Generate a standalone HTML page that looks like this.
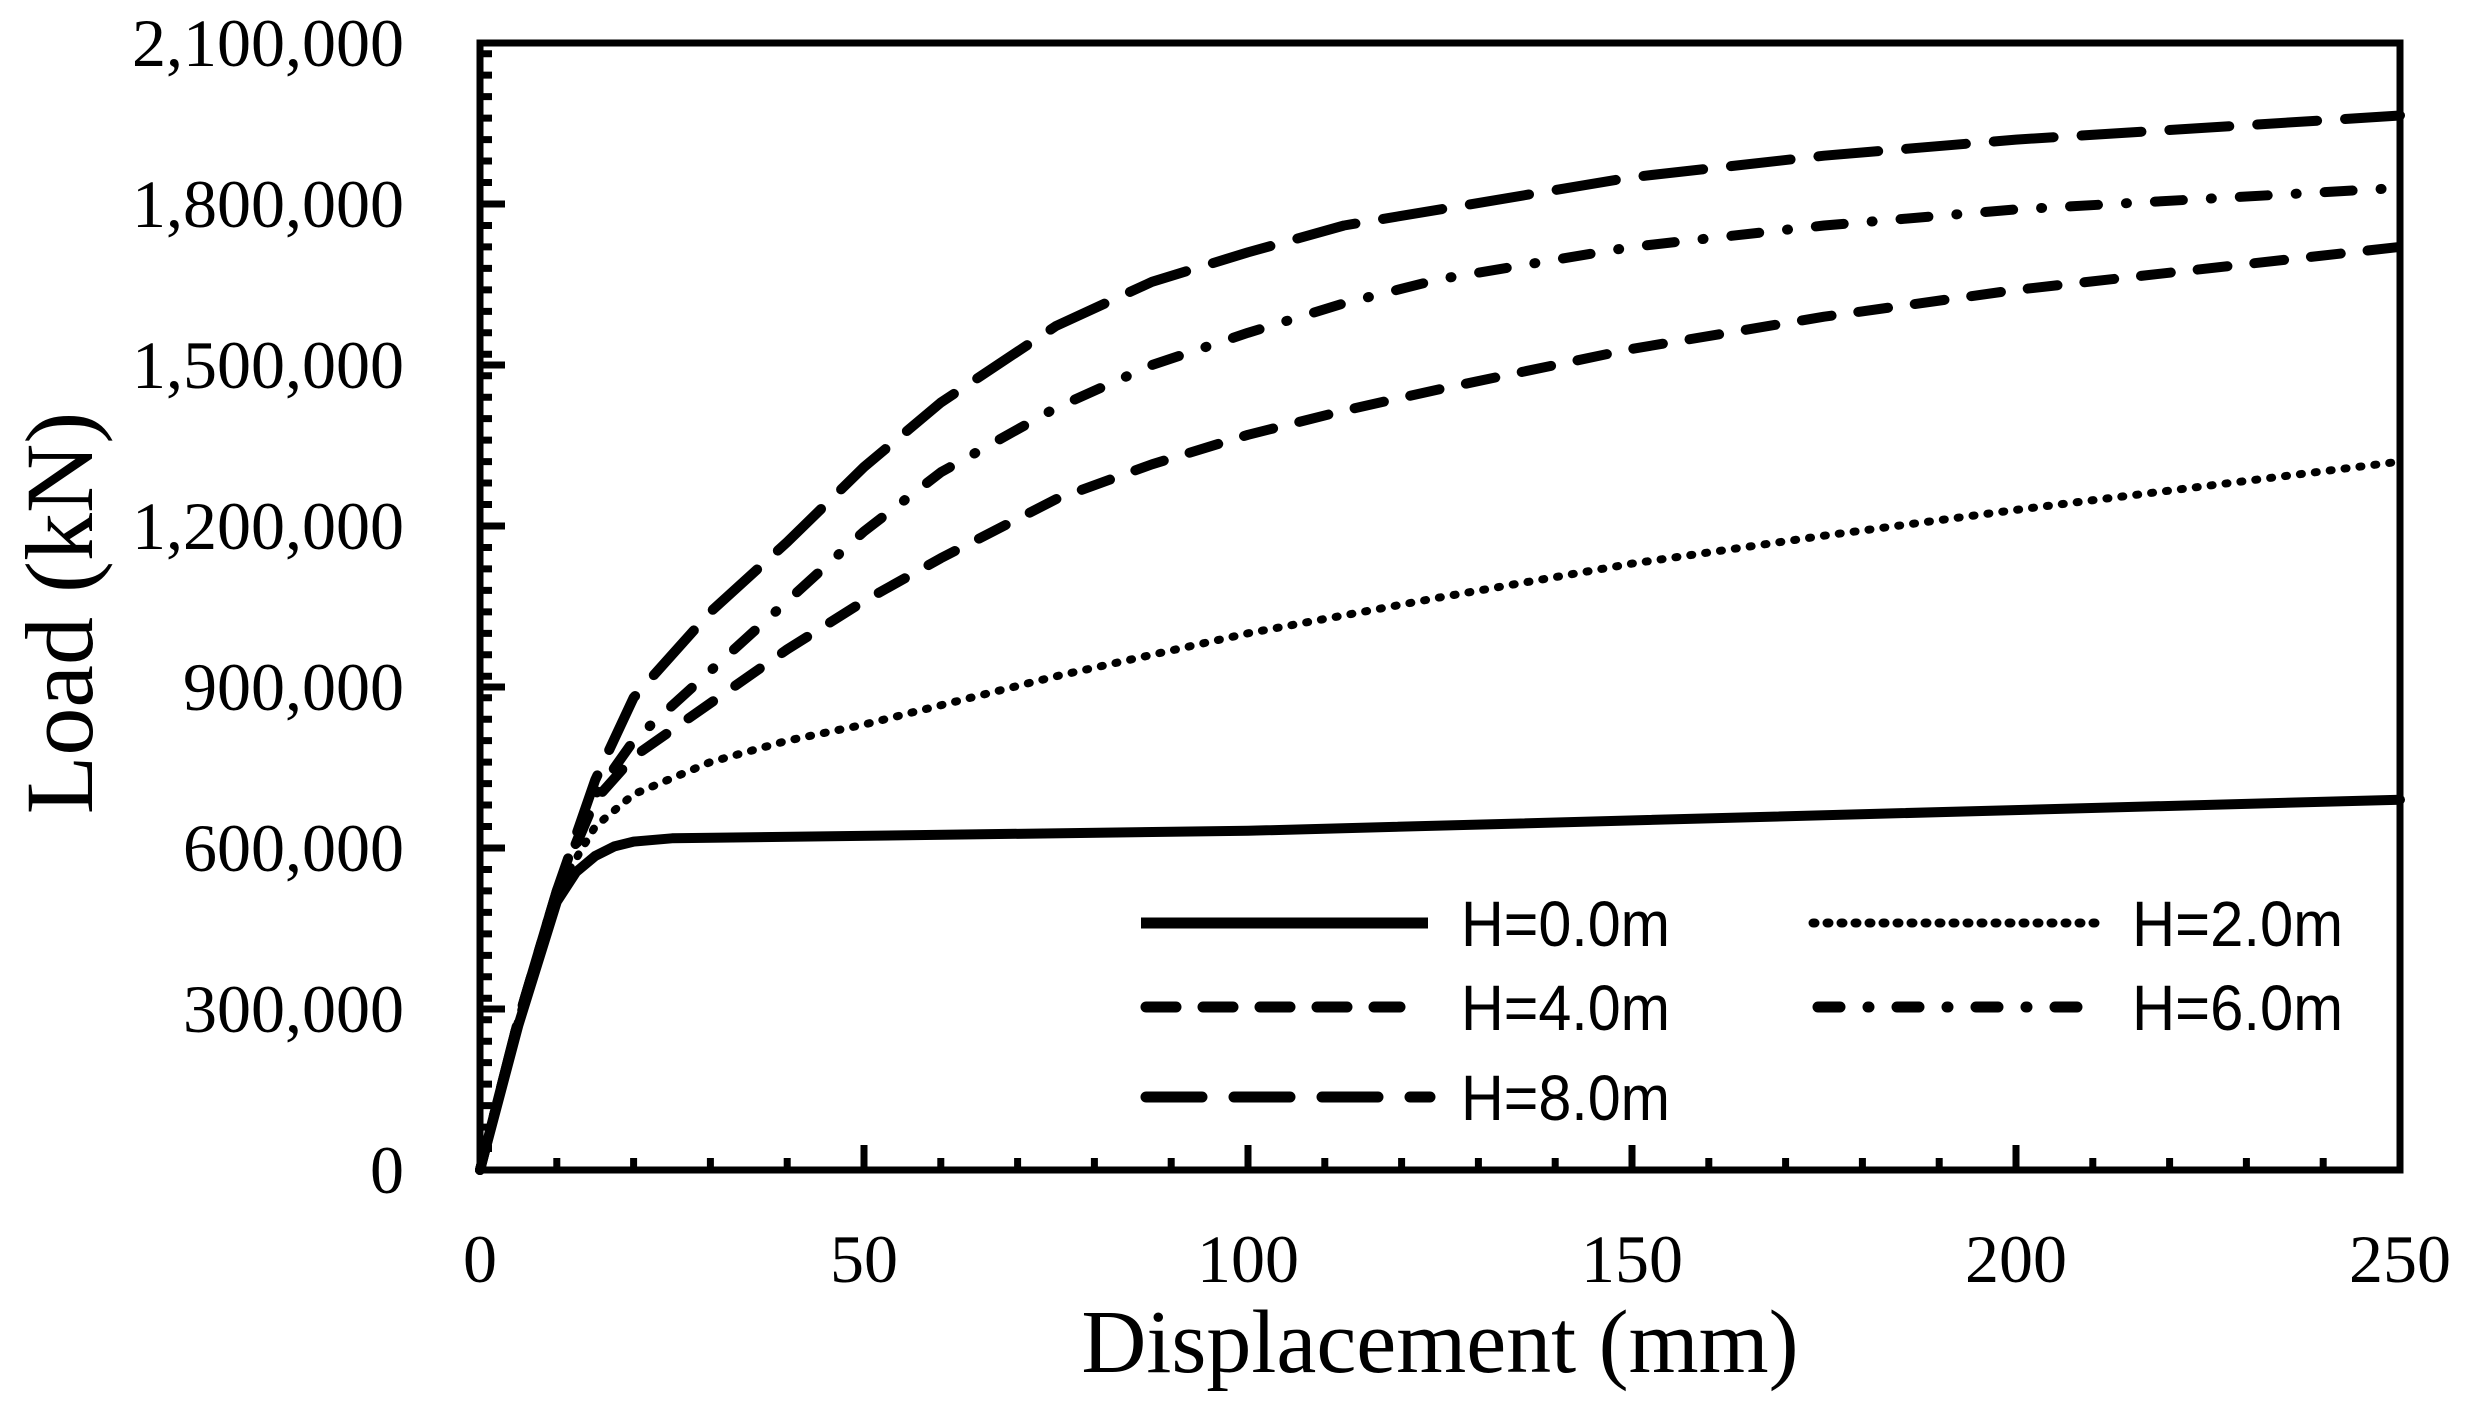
<!DOCTYPE html>
<html><head><meta charset="utf-8"><style>
html,body{margin:0;padding:0;background:#fff;}
svg{display:block;}
</style></head><body>
<svg width="2467" height="1423" viewBox="0 0 2467 1423" xmlns="http://www.w3.org/2000/svg">
<rect width="2467" height="1423" fill="#fff"/>
<g stroke="#000" fill="none">
<path d="M486,1173.5 V40" stroke-width="12" stroke-dasharray="7 14.467"/>
<path d="M476.5,1164 H2404" stroke-width="12" stroke-dasharray="7 69.8"/>
<path stroke-width="7" d="M480,1170h25 M480,1009h25 M480,848h25 M480,687h25 M480,526h25 M480,365h25 M480,204h25 M864,1170v-25 M1248,1170v-25 M1632,1170v-25 M2016,1170v-25"/>
</g>
<g fill="none" stroke="#000" stroke-width="10" stroke-linecap="round" stroke-linejoin="round">
<polyline points="480,1170 518.4,1025.1 556.8,901.7 576,872.1 595.2,856 614.4,846.4 633.6,841.6 672,838.3 1248,830.8 2400,799.7"/>
<polyline stroke-width="8" stroke-dasharray="2 13" points="480,1170 518.4,1019.7 556.8,890.9 595.2,826.5 633.6,794.3 710.4,762.1 787.2,740.7 864,724.6 1056,676.3 1248,633.3 1440,597.4 1632,563.6 1824,535.7 2016,509.9 2400,461.6"/>
<polyline stroke-dasharray="30 27" points="480,1170 518.4,1019.7 556.8,890.9 595.2,800 633.6,756.8 710.4,703.1 787.2,649.4 864,601.1 940.8,558.2 1056,499.2 1152,464.3 1248,434.8 1344,410.6 1440,389.1 1632,348.9 1824,316.7 2016,289.9 2400,246.9"/>
<polyline stroke-dasharray="28 28 1 28" points="480,1170 518.4,1019.7 556.8,890.9 595.2,795 633.6,740.7 710.4,670.9 787.2,601.1 864,531.4 940.8,472.3 1056,407.9 1152,365 1248,332.8 1344,303.3 1440,279.1 1632,246.9 1824,225.5 2016,209.4 2400,187.9"/>
<polyline stroke-dasharray="60 28" points="480,1170 518.4,1019.7 556.8,890.9 595.2,780 633.6,697.7 710.4,611.9 787.2,542.1 864,467 940.8,402.6 1056,326 1152,281.8 1248,252.3 1344,225.5 1440,209.4 1632,177.2 1824,155.7 2016,139.6 2400,115.5"/>
</g>
<rect x="480" y="43" width="1920" height="1127" fill="none" stroke="#000" stroke-width="7"/>
<g font-family="Liberation Serif, serif" font-size="68" fill="#000" text-anchor="end">
<text x="404" y="1193">0</text>
<text x="404" y="1032">300,000</text>
<text x="404" y="871">600,000</text>
<text x="404" y="710">900,000</text>
<text x="404" y="549">1,200,000</text>
<text x="404" y="388">1,500,000</text>
<text x="404" y="227">1,800,000</text>
<text x="404" y="66">2,100,000</text>
</g>
<g font-family="Liberation Serif, serif" font-size="68" fill="#000" text-anchor="middle">
<text x="480" y="1282">0</text>
<text x="864" y="1282">50</text>
<text x="1248" y="1282">100</text>
<text x="1632" y="1282">150</text>
<text x="2016" y="1282">200</text>
<text x="2400" y="1282">250</text>
</g>
<text x="1440" y="1372" font-family="Liberation Serif, serif" font-size="90" text-anchor="middle">Displacement (mm)</text>
<text transform="translate(92,613) rotate(-90)" font-family="Liberation Serif, serif" font-size="96" text-anchor="middle">Load (kN)</text>
<g stroke="#000" stroke-width="11" fill="none">
<line x1="1141" y1="923" x2="1428" y2="923"/>
<line x1="1813" y1="923" x2="2095" y2="923" stroke-dasharray="2 12" stroke-linecap="round" stroke-width="9"/>
<line x1="1146" y1="1007" x2="1400" y2="1007" stroke-dasharray="30 27" stroke-linecap="round"/>
<line x1="1818" y1="1007" x2="2100" y2="1007" stroke-dasharray="22 28 1 28" stroke-linecap="round"/>
<line x1="1146" y1="1097" x2="1430" y2="1097" stroke-dasharray="56 32" stroke-linecap="round"/>
</g>
<g font-family="Liberation Sans Narrow, Liberation Sans, sans-serif" font-size="64" fill="#000">
<text x="1461" y="946" textLength="209" lengthAdjust="spacingAndGlyphs">H=0.0m</text>
<text x="2132" y="946" textLength="211" lengthAdjust="spacingAndGlyphs">H=2.0m</text>
<text x="1461" y="1030" textLength="209" lengthAdjust="spacingAndGlyphs">H=4.0m</text>
<text x="2132" y="1030" textLength="211" lengthAdjust="spacingAndGlyphs">H=6.0m</text>
<text x="1461" y="1120" textLength="209" lengthAdjust="spacingAndGlyphs">H=8.0m</text>
</g>
</svg>
</body></html>
